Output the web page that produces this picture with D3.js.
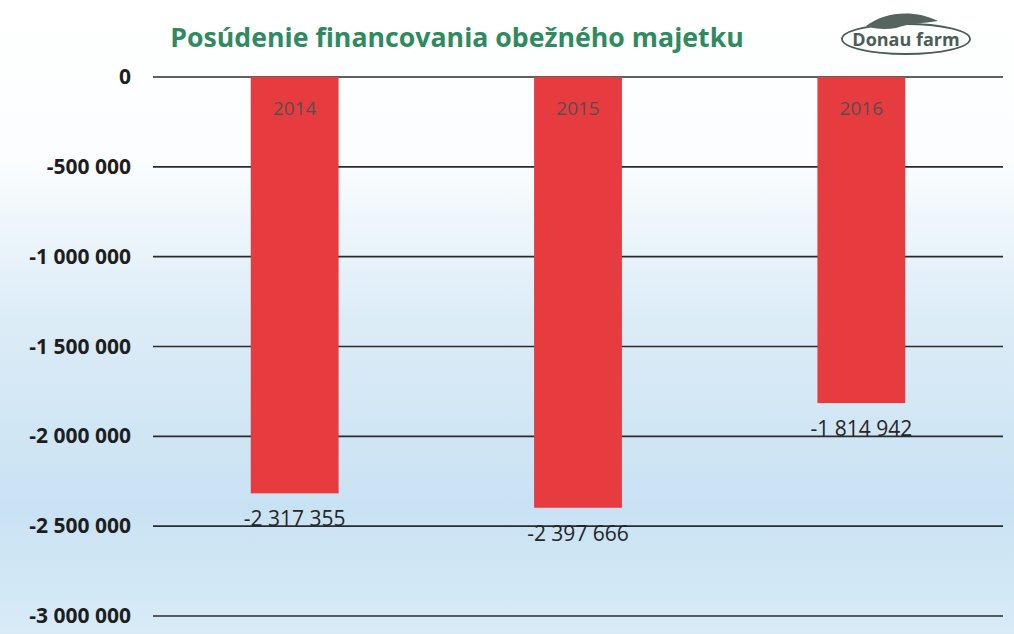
<!DOCTYPE html>
<html>
<head>
<meta charset="utf-8">
<script src="https://cdn.jsdelivr.net/npm/d3@7"></script>
<style>
  body { margin: 0; background: #fff; }
  svg { display: block; }
</style>
</head>
<body>
<div id="chart"></div>
<script>
const years = ["2014", "2015", "2016"];
const values = [-2317355, -2397666, -1814942];
const yTicks = [0, -500000, -1000000, -1500000, -2000000, -2500000, -3000000];
const title = "Posúdenie financovania obežného majetku";

const width = 1014, height = 634;
const plot = { left: 153, right: 1003, top: 77, bottom: 616 };

const svg = d3.select("#chart").append("svg")
    .attr("width", width)
    .attr("height", height);

// background gradient, white at top, pale blue lower down
const defs = svg.append("defs");
const grad = defs.append("linearGradient")
    .attr("id", "bg").attr("x1", 0).attr("y1", 0).attr("x2", 0).attr("y2", 1);
grad.append("stop").attr("offset", "0%").attr("stop-color", "#ffffff");
grad.append("stop").attr("offset", "25%").attr("stop-color", "#fbfdfe");
grad.append("stop").attr("offset", "50%").attr("stop-color", "#dcecf7");
grad.append("stop").attr("offset", "80%").attr("stop-color", "#c9e2f3");
grad.append("stop").attr("offset", "100%").attr("stop-color", "#d8ebf7");
svg.append("rect").attr("width", width).attr("height", height).attr("fill", "url(#bg)");

const x = d3.scaleBand()
    .domain(years)
    .range([plot.left, plot.right])
    .paddingInner(0.69)
    .paddingOuter(0.345);

const y = d3.scaleLinear()
    .domain([0, -3000000])
    .range([plot.top, plot.bottom]);

const fmt = v => d3.format(",")(v).replace(/,/g, " ").replace("−", "-");

// gridlines
svg.append("g")
    .selectAll("line")
    .data(yTicks)
    .join("line")
    .attr("x1", plot.left).attr("x2", plot.right)
    .attr("y1", d => y(d)).attr("y2", d => y(d))
    .attr("stroke", "#2b2b2b")
    .attr("stroke-width", 1.6);

// tick labels
svg.append("g")
    .selectAll("text")
    .data(yTicks)
    .join("text")
    .attr("x", 131)
    .attr("y", d => y(d) + 7)
    .attr("text-anchor", "end")
    .attr("font-family", "Open Sans, sans-serif")
    .attr("font-weight", 700)
    .attr("font-size", 21)
    .attr("fill", "#1e1e1e")
    .text(d => fmt(d));

// bars
svg.append("g")
    .selectAll("rect")
    .data(values)
    .join("rect")
    .attr("x", (d, i) => x(years[i]))
    .attr("y", y(0))
    .attr("width", x.bandwidth())
    .attr("height", d => y(d) - y(0))
    .attr("fill", "#e63c3f");

// year labels inside bars
svg.append("g")
    .selectAll("text")
    .data(years)
    .join("text")
    .attr("x", d => x(d) + x.bandwidth() / 2)
    .attr("y", y(0) + 38)
    .attr("text-anchor", "middle")
    .attr("font-family", "Open Sans, sans-serif")
    .attr("font-size", 19)
    .attr("fill", "#5a4c4e")
    .text(d => d);

// value labels under bars
svg.append("g")
    .selectAll("text")
    .data(values)
    .join("text")
    .attr("x", (d, i) => x(years[i]) + x.bandwidth() / 2)
    .attr("y", d => y(d) + 33)
    .attr("text-anchor", "middle")
    .attr("font-family", "Open Sans, sans-serif")
    .attr("font-size", 21)
    .attr("fill", "#262626")
    .text(d => fmt(d));

// title
svg.append("text")
    .attr("x", 457)
    .attr("y", 47)
    .attr("text-anchor", "middle")
    .attr("font-family", "Open Sans, sans-serif")
    .attr("font-weight", 700)
    .attr("font-size", 26.7)
    .attr("fill", "#2f8a60")
    .text(title);

// logo
const logo = svg.append("g").attr("transform", "translate(906, 39)");
logo.append("ellipse")
    .attr("rx", 64).attr("ry", 15)
    .attr("fill", "none")
    .attr("stroke", "#4c5c57")
    .attr("stroke-width", 1.8);
logo.append("path")
    .attr("d", "M-40,-13 C-22,-27 8,-30 32,-18 C18,-16 0,-15 -10,-11 C-20,-9 -32,-10 -40,-13 Z")
    .attr("fill", "#56645f");
logo.append("text")
    .attr("y", 7)
    .attr("text-anchor", "middle")
    .attr("font-family", "Open Sans, sans-serif")
    .attr("font-weight", 700)
    .attr("font-size", 18)
    .attr("fill", "#4c5c57")
    .text("Donau farm");
</script>
</body>
</html>
